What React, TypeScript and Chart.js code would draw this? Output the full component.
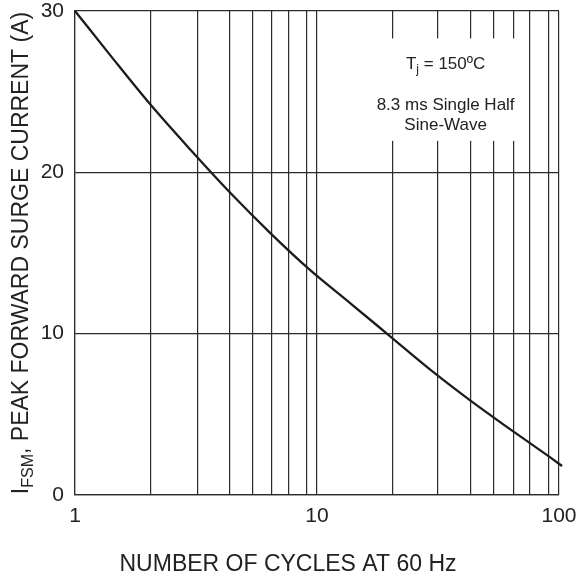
import React, { useEffect, useRef } from "react";
import { Chart, registerables } from "chart.js";

Chart.register(...registerables);

// ---- data ----
const cycles = [1, 1.4, 2.05, 3, 4.4, 6.4, 9.35, 13.7, 20, 29.2, 42.8, 62.5, 91.4, 103];
const surgeCurrent = [30, 27.25, 24.2, 21.4, 18.7, 16.25, 13.95, 11.9, 9.85, 7.8, 5.88, 4.1, 2.36, 1.8];

// vertical grid lines as placed in the reference
const xGridValues = [1, 2.05, 3.2, 4.35, 5.4, 6.5, 7.6, 9.05, 10, 20.5, 31.5, 43, 53.5, 65, 75.5, 90.5, 100];
const xTickLabels = [1, 10, 100];
const yTickValues = [0, 10, 20, 30];

const xTitle = "NUMBER OF CYCLES AT 60 Hz";
const yTitleMain = "I";
const yTitleSub = "FSM";
const yTitleRest = ", PEAK FORWARD SURGE CURRENT (A)";
const noteLine1 = ["T", "j", " = 150ºC"];
const noteLine2 = "8.3 ms Single Half";
const noteLine3 = "Sine-Wave";

const FONT = "'Liberation Sans', Arial, Helvetica, sans-serif";
const INK = "#222222";
const GRID = "#2b2b2b";

const textPlugin = {
  id: "customTexts",
  afterDraw(chart: any) {
    const { ctx, chartArea, width } = chart;
    const xs = chart.scales.x;
    const ys = chart.scales.y;
    ctx.save();

    // annotation box (white background covering grid)
    const bx0 = xs.getPixelForValue(16.9);
    const bx1 = xs.getPixelForValue(69);
    const by0 = ys.getPixelForValue(28.3);
    const by1 = ys.getPixelForValue(21.95);
    ctx.fillStyle = "#ffffff";
    ctx.fillRect(bx0, by0, bx1 - bx0, by1 - by0);

    const cx = xs.getPixelForValue(34);
    ctx.fillStyle = INK;
    ctx.textBaseline = "alphabetic";
    // line 1 with subscript
    const f = 17;
    const fs = Math.round(f * 0.72);
    ctx.font = `${f}px ${FONT}`;
    const wT = ctx.measureText(noteLine1[0]).width;
    const wRest = ctx.measureText(noteLine1[2]).width;
    ctx.font = `${fs}px ${FONT}`;
    const wj = ctx.measureText(noteLine1[1]).width;
    const total1 = wT + wj + wRest;
    let x = cx - total1 / 2;
    const b1 = ys.getPixelForValue(26.43);
    ctx.textAlign = "left";
    ctx.font = `${f}px ${FONT}`;
    ctx.fillText(noteLine1[0], x, b1);
    x += wT;
    ctx.font = `${fs}px ${FONT}`;
    ctx.fillText(noteLine1[1], x, b1 + 4);
    x += wj;
    ctx.font = `${f}px ${FONT}`;
    ctx.fillText(noteLine1[2], x, b1);

    ctx.textAlign = "center";
    ctx.fillText(noteLine2, cx, ys.getPixelForValue(23.85));
    ctx.fillText(noteLine3, cx, ys.getPixelForValue(22.61));

    // x axis title
    ctx.font = `23px ${FONT}`;
    ctx.textAlign = "center";
    ctx.fillText(xTitle, width / 2, chartArea.bottom + 76);

    // y axis title (rotated, with subscript)
    const F = 23;
    const FS = 16;
    ctx.font = `${F}px ${FONT}`;
    const wI = ctx.measureText(yTitleMain).width;
    const wR = ctx.measureText(yTitleRest).width;
    ctx.font = `${FS}px ${FONT}`;
    const wS = ctx.measureText(yTitleSub).width;
    const tot = wI + wS + wR;
    const midY = (chartArea.top + chartArea.bottom) / 2;
    ctx.translate(28, midY);
    ctx.rotate(-Math.PI / 2);
    ctx.textAlign = "left";
    let tx = -tot / 2;
    ctx.font = `${F}px ${FONT}`;
    ctx.fillText(yTitleMain, tx, 0);
    tx += wI;
    ctx.font = `${FS}px ${FONT}`;
    ctx.fillText(yTitleSub, tx, 5);
    tx += wS;
    ctx.font = `${F}px ${FONT}`;
    ctx.fillText(yTitleRest, tx, 0);

    ctx.restore();
  },
};

export default function App() {
  const ref = useRef<HTMLCanvasElement>(null);

  useEffect(() => {
    document.body.style.margin = "0";
    const canvas = ref.current!;
    const chart = new Chart(canvas, {
      type: "line",
      data: {
        datasets: [
          {
            data: cycles.map((c, i) => ({ x: c, y: surgeCurrent[i] })),
            borderColor: "#1c1c1c",
            borderWidth: 2.3,
            pointRadius: 0,
            fill: false,
            cubicInterpolationMode: "monotone",
            clip: false as any,
          },
        ],
      },
      options: {
        responsive: false,
        animation: false,
        layout: { padding: { top: 11, right: 17, left: 0, bottom: 0 } },
        plugins: {
          legend: { display: false },
          tooltip: { enabled: false },
          title: { display: false },
        },
        scales: {
          x: {
            type: "logarithmic",
            min: 1,
            max: 100,
            afterBuildTicks: (scale: any) => {
              scale.ticks = xGridValues.map((v) => ({ value: v }));
            },
            afterFit: (scale: any) => {
              scale.height = 83;
              scale.paddingLeft = 0;
              scale.paddingRight = 0;
            },
            ticks: {
              autoSkip: false,
              maxRotation: 0,
              padding: 9,
              color: INK,
              font: { family: FONT, size: 21 },
              callback: (value: any) =>
                xTickLabels.includes(Number(value)) ? String(value) : "",
            },
            grid: { color: GRID, lineWidth: 1.2, drawTicks: false },
            border: { color: GRID, width: 1.2 },
          },
          y: {
            type: "linear",
            min: 0,
            max: 30,
            afterBuildTicks: (scale: any) => {
              scale.ticks = yTickValues.map((v) => ({ value: v }));
            },
            afterFit: (scale: any) => {
              scale.width = 75;
              scale.paddingTop = 0;
              scale.paddingBottom = 0;
            },
            ticks: {
              padding: 11,
              color: INK,
              font: { family: FONT, size: 21 },
            },
            grid: { color: GRID, lineWidth: 1.2, drawTicks: false },
            border: { color: GRID, width: 1.2 },
          },
        },
      },
      plugins: [textPlugin],
    });
    return () => chart.destroy();
  }, []);

  return (
    <div style={{ width: 576, height: 578 }}>
      <canvas ref={ref} width={576} height={578} style={{ display: "block" }} />
    </div>
  );
}
